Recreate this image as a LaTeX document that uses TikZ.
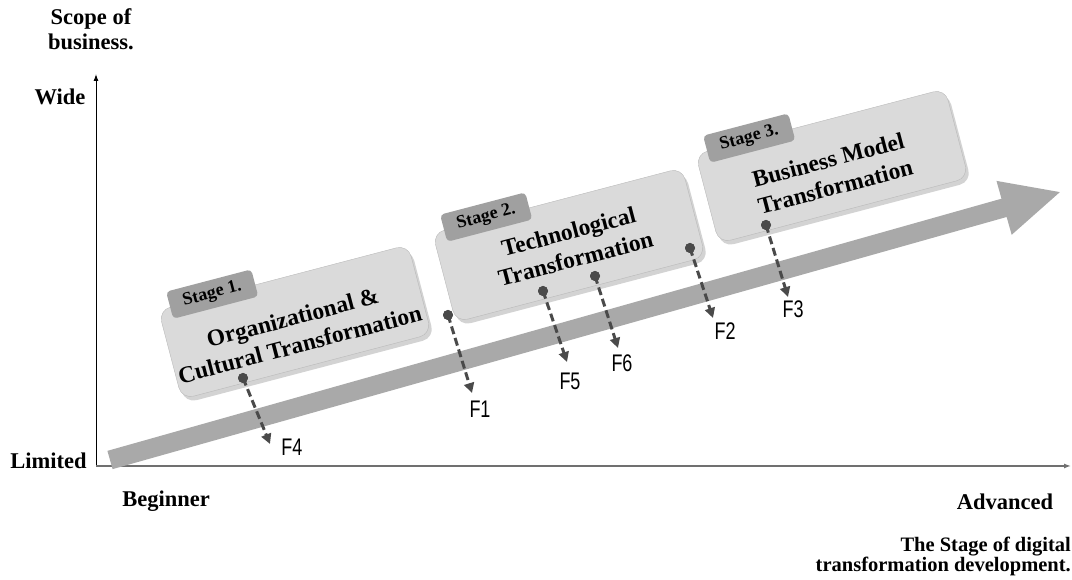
\documentclass[tikz,border=0pt]{standalone}
\usepackage{fontspec}
\setmainfont{Liberation Serif}
\newfontfamily\labfont{Liberation Sans}
\usepackage{graphicx}
\usetikzlibrary{arrows.meta,shadows}
\definecolor{bandgray}{HTML}{A9A9A9}
\definecolor{boxgray}{HTML}{DADADA}
\definecolor{tabgray}{HTML}{A0A0A0}
\definecolor{dotgray}{HTML}{4A4A4A}
\definecolor{axisgray}{HTML}{707070}
\tikzset{
  axislab/.style={font=\fontsize{22.5}{25}\selectfont\bfseries, inner sep=0pt},
  devlab/.style={font=\fontsize{20.5}{20}\selectfont\bfseries, inner sep=0pt},
  stagebox/.style={rounded corners=12pt, fill=boxgray, draw=boxgray!85!black, line width=0.4pt,
    minimum width=258pt, minimum height=92pt,
    drop shadow={opacity=0.35, shadow xshift=3pt, shadow yshift=-4pt}},
  stagetab/.style={rounded corners=4pt, fill=tabgray, minimum width=88pt, minimum height=28pt,
    font=\fontsize{18}{20}\selectfont\bfseries, inner sep=0pt},
  stagetext/.style={align=center, font=\fontsize{23.5}{28}\selectfont\bfseries, inner sep=0pt},
  dotnode/.style={circle, fill=dotgray, minimum size=10pt, inner sep=0pt},
  conn/.style={draw=dotgray, line width=3pt, dash pattern=on 8pt off 4pt,
    -{Triangle[length=10pt,width=10pt]}},
  flab/.style={font=\labfont\fontsize{24}{24}\selectfont, inner sep=0pt},
}
\newcommand{\flabtext}[1]{\scalebox{0.75}[1]{#1}}
\begin{document}
\begin{tikzpicture}[x=1pt,y=1pt]
\useasboundingbox (0,0) rectangle (1072,580);

% axes
\coordinate (O) at (96,114);
\coordinate (Ytop) at (96,506);
\coordinate (Xend) at (1071,114);
\draw[black, line width=1pt, -{Latex[length=7pt,width=5pt]}] (O) -- (Ytop);
\draw[axisgray, line width=1.3pt, -{Latex[length=7pt,width=5pt]}] (O) -- (Xend);

% axis labels
\node[axislab, align=center] (scope) at (91,551) {Scope of\\business.};
\node[axislab] (wide) at (60,483) {Wide};
\node[axislab] (limited) at (48.5,119) {Limited};
\node[axislab, anchor=base] (beg) at (166,73) {Beginner};
\node[axislab, anchor=base] (adv) at (1005,70) {Advanced};
\node[devlab, anchor=base east] (dev1) at (1071,28.5) {The Stage of digital};
\node[devlab, anchor=base east] (dev2) at (1071,8.5) {transformation development.};

% big band arrow
\begin{scope}[shift={(110,120)}, rotate=15.75]
  \fill[bandgray] (0,-9.5) -- (929,-9.5) -- (929,-28) -- (987,0) -- (929,28) -- (929,9.5) -- (0,9.5) -- cycle;
\end{scope}

% stage 1
\begin{scope}[shift={(295,258)}, rotate=14.7, transform shape]
  \node[stagebox] (s1) at (0,0) {};
  \node[stagetab] (tab1) at (-73,48) {Stage 1.};
  \node[stagetext] (txt1) at (-1,-9) {Organizational \&\\Cultural Transformation};
\end{scope}

% stage 2
\begin{scope}[shift={(569,335)}, rotate=14.7, transform shape]
  \node[stagebox] (s2) at (0,0) {};
  \node[stagetab] (tab2) at (-73,48) {Stage 2.};
  \node[stagetext] (txt2) at (3,-1) {Technological\\Transformation};
\end{scope}

% stage 3
\begin{scope}[shift={(832,414)}, rotate=14.7, transform shape]
  \node[stagebox] (s3) at (0,0) {};
  \node[stagetab] (tab3) at (-73,48) {Stage 3.};
  \node[stagetext] (txt3) at (-2,-7) {Business Model\\Transformation};
\end{scope}

% factor connectors
\node[dotnode] (d4) at (243,202) {};
\coordinate (t4) at (270,136);
\node[flab] (f4) at (292,133) {\flabtext{F4}};

\node[dotnode] (d1) at (448,265) {};
\coordinate (t1) at (472,187);
\node[flab] (f1) at (480,171) {\flabtext{F1}};

\node[dotnode] (d5) at (543,289) {};
\coordinate (t5) at (567,218);
\node[flab] (f5) at (570,199) {\flabtext{F5}};

\node[dotnode] (d6) at (595,304) {};
\coordinate (t6) at (618,232);
\node[flab] (f6) at (622,217) {\flabtext{F6}};

\node[dotnode] (d2) at (690,332) {};
\coordinate (t2) at (713,262);
\node[flab] (f2) at (725,249) {\flabtext{F2}};

\node[dotnode] (d3) at (766,355) {};
\coordinate (t3) at (788,283);
\node[flab] (f3) at (793,271) {\flabtext{F3}};

\foreach \i in {1,...,6} {
  \draw[conn] (d\i.center) -- (t\i);
}
\foreach \i in {1,...,6} {
  \node[dotnode] at (d\i) {};
}
\end{tikzpicture}
\end{document}
